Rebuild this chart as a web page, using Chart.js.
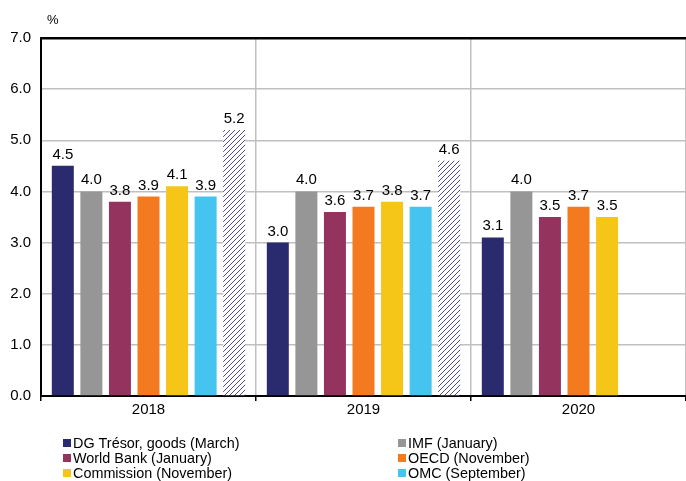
<!DOCTYPE html>
<html>
<head>
<meta charset="utf-8">
<script src="https://cdn.jsdelivr.net/npm/chart.js@4"></script>
<style>
  html, body { margin: 0; padding: 0; background: #fff; }
  #wrap { position: relative; width: 686px; height: 481px; }
  #pct { position: absolute; left: 47px; top: 12px; font: 13px "Liberation Sans", Arial, sans-serif; color: #000; }
</style>
</head>
<body>
<div id="wrap">
  <canvas id="growthChart" width="686" height="481"></canvas>
  <div id="pct">%</div>
</div>
<script>
// years on the x axis
const years = ['2018', '2019', '2020'];

// forecasts by source (%)
const dgTresor   = [4.5, 3.0, 3.1];
const imf        = [4.0, 4.0, 4.0];
const worldBank  = [3.8, 3.6, 3.5];
const oecd       = [3.9, 3.7, 3.7];
const commission = [4.1, 3.8, 3.5];
const omc        = [3.9, 3.7, null];
const dgTresorAll = [5.2, 4.6, null]; // hatched bar, not in legend

const yTicks = [0, 1, 2, 3, 4, 5, 6, 7];

const FONT = '"Liberation Sans", Arial, sans-serif';

// diagonal hatch fill
function hatchPattern() {
    const c = document.createElement('canvas');
    c.width = 5; c.height = 5;
    const g = c.getContext('2d');
    g.fillStyle = '#fff';
    g.fillRect(0, 0, 5, 5);
    g.strokeStyle = '#4a4a96';
    g.lineWidth = 1;
    g.beginPath();
    g.moveTo(-1, 6); g.lineTo(6, -1);
    g.moveTo(-1, 1); g.lineTo(1, -1);
    g.moveTo(4, 6); g.lineTo(6, 4);
    g.stroke();
    return g.createPattern(c, 'repeat');
}

const series = [
    { label: 'DG Trésor, goods (March)', data: dgTresor, color: '#2a2a6e' },
    { label: 'IMF (January)', data: imf, color: '#969696' },
    { label: 'World Bank (January)', data: worldBank, color: '#93335e' },
    { label: 'OECD (November)', data: oecd, color: '#f47a20' },
    { label: 'Commission (November)', data: commission, color: '#f5c518' },
    { label: 'OMC (September)', data: omc, color: '#44c4ef' },
    { label: '', data: dgTresorAll, color: hatchPattern(), hidden_legend: true }
];

// value labels above bars
const valueLabels = {
    id: 'valueLabels',
    afterDatasetsDraw(chart) {
        const ctx = chart.ctx;
        ctx.save();
        ctx.font = '15px ' + FONT;
        ctx.fillStyle = '#000';
        ctx.textAlign = 'center';
        ctx.textBaseline = 'alphabetic';
        chart.data.datasets.forEach((ds, i) => {
            chart.getDatasetMeta(i).data.forEach((bar, j) => {
                const v = ds.data[j];
                if (v == null) return;
                ctx.fillText(v.toFixed(1), bar.x, bar.y - 7);
            });
        });
        ctx.restore();
    }
};

// two-column legend under the plot
const gridLegend = {
    id: 'gridLegend',
    afterDraw(chart) {
        const ctx = chart.ctx;
        ctx.save();
        ctx.font = '14.4px ' + FONT;
        ctx.textBaseline = 'middle';
        const cols = [63, 398];
        const rows = [443, 458, 473];
        let k = 0;
        chart.data.datasets.forEach(ds => {
            if (ds.hidden_legend) return;
            const x = cols[k % 2], y = rows[Math.floor(k / 2)];
            ctx.fillStyle = ds.backgroundColor;
            ctx.fillRect(x, y - 4, 8, 8);
            ctx.fillStyle = '#000';
            ctx.fillText(ds.label, x + 10, y + 1);
            k++;
        });
        ctx.restore();
    }
};

const ctx = document.getElementById('growthChart').getContext('2d');
new Chart(ctx, {
    type: 'bar',
    data: {
        labels: years,
        datasets: series.map(s => ({
            label: s.label,
            data: s.data,
            backgroundColor: s.color,
            borderWidth: 0,
            hidden_legend: s.hidden_legend,
            categoryPercentage: 0.93,
            barPercentage: 0.77
        }))
    },
    options: {
        responsive: false,
        animation: false,
        layout: { padding: { top: 38, right: 0, left: 0, bottom: 0 } },
        plugins: {
            legend: { display: false },
            tooltip: { enabled: false }
        },
        scales: {
            x: {
                grid: {
                    offset: true,
                    color: c => c.index === 3 ? 'rgba(0,0,0,0)' : '#c0c0c0',
                    lineWidth: 1.5,
                    tickColor: c => c.index === 3 ? 'rgba(0,0,0,0)' : '#000',
                    tickLength: 5
                },
                border: { color: '#000', width: 2 },
                ticks: { color: '#000', font: { family: FONT, size: 15 }, padding: 0 },
                afterFit(scale) { scale.height = 85; }
            },
            y: {
                min: 0,
                max: 7,
                afterBuildTicks(scale) { scale.ticks = yTicks.map(v => ({ value: v })); },
                grid: {
                    drawTicks: false,
                    color: c => c.tick && c.tick.value === 7 ? '#000' : '#c0c0c0',
                    lineWidth: c => c.tick && c.tick.value === 7 ? 2.5 : 1.5
                },
                border: { color: '#000', width: 2 },
                ticks: {
                    color: '#000',
                    font: { family: FONT, size: 15 },
                    padding: 10,
                    callback: v => v.toFixed(1)
                },
                afterFit(scale) { scale.width = 41; }
            }
        }
    },
    plugins: [valueLabels, gridLegend]
});
</script>
</body>
</html>
